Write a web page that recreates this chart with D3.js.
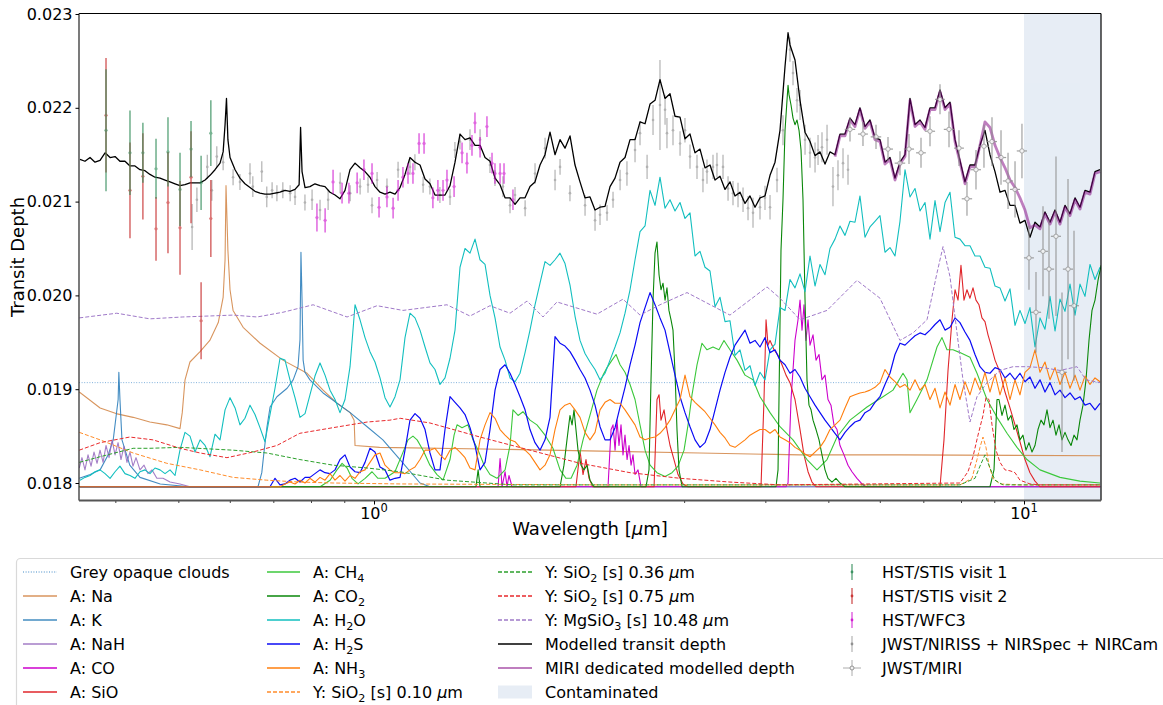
<!DOCTYPE html>
<html><head><meta charset="utf-8">
<script src="https://cdn.jsdelivr.net/npm/d3@7/dist/d3.min.js"></script>
<style>
html,body{margin:0;padding:0;background:#fff;}
svg text{font-family:"DejaVu Sans",sans-serif;white-space:pre;}
</style></head>
<body>
<svg id="chart" width="1163" height="705"></svg>
<script>
// ===================== DATA =====================
// wavelength grid (micron) shared by the densely sampled species spectra
const wavelengthGrid = [
0.3529,0.3592,0.3657,0.3722,0.3789,0.3857,0.3926,0.3996,0.4066,0.4139,0.4213,0.4288,0.4365,0.4443,0.4522,0.4603,0.4686,0.4770,0.4855,0.4942,
0.5029,0.5119,0.5211,0.5304,0.5400,0.5497,0.5594,0.5694,0.5796,0.5900,0.6005,0.6113,0.6220,0.6331,0.6445,0.6560,0.6677,0.6796,0.6918,0.7042,
0.7168,0.7296,0.7426,0.7559,0.7694,0.7832,0.7970,0.8113,0.8259,0.8407,0.8557,0.8710,0.8865,0.9024,0.9186,0.9350,0.9517,0.9687,0.9858,1.0035,
1.0215,1.0398,1.0583,1.0773,1.0965,1.1161,1.1360,1.1563,1.1770,1.1981,1.2194,1.2412,1.2634,1.2860,1.3090,1.3324,1.3562,1.3805,1.4051,1.4303,
1.4558,1.4819,1.5083,1.5353,1.5627,1.5907,1.6191,1.6481,1.6775,1.7075,1.7378,1.7689,1.8005,1.8327,1.8654,1.8988,1.9327,1.9673,2.0024,2.0382,
2.0746,2.1117,2.1494,2.1879,2.2270,2.2669,2.3073,2.3486,2.3905,2.4333,2.4768,2.5211,2.5661,2.6120,2.6586,2.7062,2.7542,2.8035,2.8536,2.9047,
2.9565,3.0094,3.0632,3.1180,3.1735,3.2303,3.2880,3.3469,3.4066,3.4676,3.5294,3.5926,3.6567,3.7222,3.7886,3.8564,3.9251,3.9954,4.0667,4.1395,
4.2134,4.2888,4.3652,4.4433,4.5226,4.6035,4.6858,4.7697,4.8547,4.9416,5.0293,5.1193,5.2110,5.3043,5.3986,5.4952,5.5933,5.6934,5.7950,5.8987,
6.0039,6.1114,6.2205,6.3318,6.4448,6.5602,6.6772,6.7967,6.9183,7.0421,7.1677,7.2960,7.4264,7.5593,7.6941,7.8318,7.9707,8.1134,8.2584,8.4062,
8.5562,8.7093,8.8650,9.0237,9.1850,9.3494,9.5163,9.6866,9.8583,10.035,10.214,10.397,10.583,10.772,10.965,11.161,11.360,11.563,11.770,11.981,
12.194,12.412,12.634,12.860,13.090];

// transit depths in ppm on the grid above
const h2oPpm = [
18030,18060,18080,18120,18140,18100,18050,18120,18180,18100,18080,18050,18120,18140,18100,18160,18140,18100,18140,18080,
18350,18540,18500,18330,18460,18400,18280,18520,18460,18780,18910,18800,18620,18690,18830,18730,18590,18440,18730,19010,
19330,19310,19100,18910,18700,18740,18940,19140,19280,19150,18990,18890,18750,18890,19240,19900,19740,19550,19400,19290,
19120,18910,18810,18920,19100,19550,19810,19760,19630,19450,19280,19210,19050,19120,19330,19630,20300,20500,20450,20600,
20380,20330,20000,19760,19450,19310,19120,19080,19170,19390,19630,19900,20130,20360,20320,20380,20450,20340,20110,19780,
19520,19380,19290,19210,19100,19170,19310,19450,19600,19810,20060,20380,20680,20740,21120,20960,21260,20930,21020,20900,
20990,20820,20880,20420,20470,20300,20260,19880,19980,19720,19730,19360,19420,19200,19250,19040,19180,19100,19420,19480,
19870,19840,20170,20080,20230,20040,20420,20100,20330,20220,20500,20600,20740,20640,20790,20780,21060,20620,20730,20790,
20850,20460,20510,20420,20790,21340,21050,21140,20900,20990,20600,21010,20680,20990,21100,20620,20600,20530,20530,20420,
20420,20300,20290,20100,20080,19940,20070,19680,19840,19700,19870,19450,19760,19640,19990,19620,19960,19830,20120,19790,
20120,19990,20330,20170,20300];

const h2sPpm = [
17960,17960,17960,17960,17960,17960,17960,17960,17960,17960,17960,17960,17960,17960,17960,17960,17960,17960,17960,17960,
17960,17960,17960,17960,17960,17960,17960,17960,17960,17960,17960,17960,17960,17960,17960,17960,17960,17960,17960,18050,
17980,17990,18030,18050,18010,18060,18060,18100,18140,18110,18100,18140,18250,18300,18170,18120,18110,18220,18370,18330,
18170,18140,18030,18050,18060,18350,18670,18740,18690,18570,18320,18140,18140,18570,18920,18860,18800,18730,18590,18400,
18140,18220,18570,18990,19210,19260,19170,19050,18920,18780,18570,18430,18350,18460,18700,19560,19490,19460,19400,19310,
19210,19120,18990,18830,18600,18460,18460,18590,18810,19020,19260,19470,19710,19870,20030,19900,19760,19630,19390,19150,
18920,18750,18600,18460,18380,18430,18570,18780,18990,19180,19340,19470,19550,19630,19490,19520,19450,19550,19390,19420,
19310,19260,19170,19210,19130,19010,18920,18830,18750,18670,18600,18530,18460,18540,18600,18650,18670,18750,18780,18860,
18920,19050,19170,19370,19490,19470,19520,19570,19600,19580,19630,19690,19740,19630,19660,19760,19710,19610,19520,19370,
19240,19180,19170,19230,19210,19120,19170,19100,19170,19080,19130,19010,19100,18970,19070,18940,18990,18910,18960,18890,
18920,18830,18850,18780,18850];

const nh3Ppm = [
17960,17960,17960,17960,17960,17960,17960,17960,17960,17960,17960,17960,17960,17960,17960,17960,17960,17960,17960,17960,
17960,17960,17960,17960,17960,17960,17960,17960,17960,17960,17960,17960,17960,17960,17960,17960,17960,17960,17960,17960,
17960,17990,18010,17990,18030,18000,18050,18010,18060,18030,18100,18030,18080,18020,18080,18050,18120,18140,18220,18300,
18320,18190,18140,18110,18110,18100,18140,18170,18250,18350,18350,18370,18300,18250,18350,18380,18330,18270,18160,18140,
18460,18620,18750,18690,18570,18510,18460,18440,18380,18350,18300,18220,18140,18190,18300,18570,18780,18830,18850,18780,
18700,18540,18460,18540,18780,18860,18890,18850,18850,18780,18700,18620,18490,18460,18480,18490,18530,18590,18670,18780,
18890,19150,18920,18860,18810,18760,18690,18620,18540,18480,18400,18380,18420,18460,18510,18540,18570,18570,18530,18570,
18490,18460,18430,18380,18350,18310,18280,18330,18380,18460,18570,18620,18670,18800,18920,18940,18960,18970,18990,19020,
19070,19210,19130,19080,19020,19050,18990,19100,18990,19050,18890,19010,18800,18970,18830,19050,18890,19080,18940,19120,
18990,19180,18970,19160,18940,19120,18890,19100,18940,19180,19230,19420,19180,19290,19100,19230,19050,19180,19010,19150,
18990,19140,19050,19120,19080];

// [wavelength (micron), depth (ppm)]
const modelDepth = [
[0.3529,21450],[0.3592,21430],[0.3657,21470],[0.3722,21420],[0.3789,21440],[0.3857,21520],[0.3926,21470],[0.3996,21480],[0.4066,21430],[0.4139,21430],[0.4213,21380],[0.4288,21380],[0.4365,21340],[0.4443,21330],[0.4522,21290],[0.4603,21260],[0.4686,21250],[0.4770,21230],[0.4855,21210],[0.4942,21190],
[0.5029,21170],[0.5119,21180],[0.5211,21200],[0.5304,21200],[0.5400,21200],[0.5497,21230],[0.5594,21280],[0.5694,21340],[0.5796,21410],[0.586,21530],[0.590,21820],[0.593,22100],[0.596,21660],[0.6005,21470],[0.6113,21340],[0.6220,21250],[0.6331,21190],[0.6445,21150],[0.6560,21110],[0.6677,21090],[0.6796,21080],[0.6918,21080],[0.7042,21090],
[0.7168,21100],[0.7296,21120],[0.7426,21110],[0.7559,21130],[0.767,21180],[0.771,21790],[0.775,21320],[0.7832,21150],[0.7970,21160],[0.8113,21190],[0.8259,21170],[0.8407,21160],[0.8557,21100],[0.8710,21070],[0.8865,21030],[0.9024,21120],[0.9186,21340],[0.9350,21410],[0.9517,21360],[0.9687,21320],[0.9858,21260],[1.0035,21160],
[1.0215,21100],[1.0398,21080],[1.0583,21100],[1.0773,21080],[1.0965,21150],[1.1161,21290],[1.1360,21470],[1.1563,21420],[1.1770,21390],[1.1981,21240],[1.2194,21190],[1.2412,21070],[1.2634,21070],[1.2860,21070],[1.3090,21170],[1.3324,21420],[1.3562,21720],[1.3805,21660],[1.4051,21680],[1.4303,21600],
[1.4558,21600],[1.4819,21470],[1.5083,21430],[1.5353,21250],[1.5627,21180],[1.5907,21040],[1.6191,21040],[1.6481,20970],[1.6775,21040],[1.7075,21040],[1.7378,21160],[1.7689,21210],[1.8005,21390],[1.8327,21500],[1.8654,21740],[1.8988,21500],[1.9327,21660],[1.9673,21570],[2.0024,21700],[2.0382,21390],
[2.0746,21210],[2.1117,21040],[2.1494,21050],[2.1879,20910],[2.2270,20940],[2.2669,20950],[2.3073,21160],[2.3486,21250],[2.3905,21420],[2.4333,21470],[2.4768,21660],[2.5211,21660],[2.5661,21850],[2.6120,21830],[2.6586,22040],[2.7062,22080],[2.7542,22300],[2.8035,22100],[2.8536,22150],[2.9047,21910],
[2.9565,21900],[3.0094,21670],[3.0632,21720],[3.1180,21520],[3.1735,21560],[3.2303,21360],[3.2880,21390],[3.3469,21230],[3.4066,21270],[3.4676,21130],[3.5294,21210],[3.5926,21060],[3.6567,21100],[3.7222,20980],[3.7886,21060],[3.8564,20940],[3.9251,21040],[3.9954,21060],[4.0667,21280],[4.1395,21420],
[4.2134,21760],[4.2888,22440],[4.335,22800],[4.3652,22670],[4.4433,22510],[4.5226,22080],[4.6035,21740],[4.6858,21640],[4.7697,21490],[4.8547,21530],[4.9416,21400],[5.0293,21530],[5.1193,21500],[5.2110,21720],[5.3043,21720],[5.3986,21890],[5.4952,21820],[5.5933,22000],[5.6934,21800],[5.7950,21870],[5.8987,21680],
[6.0039,21660],[6.1114,21420],[6.2205,21470],[6.3318,21250],[6.4448,21420],[6.5602,21500],[6.6772,22100],[6.7967,21820],[6.9183,21870],[7.0421,21790],[7.1677,22000],[7.2960,22000],[7.4264,22190],[7.5593,22000],[7.6941,22060],[7.8318,21660],[7.9707,21440],[8.1134,21210],[8.2584,21390],[8.4062,21390],
[8.5562,21600],[8.7093,21760],[8.8650,21500],[9.0237,21320],[9.1850,21100],[9.3494,21120],[9.5163,20960],[9.6866,20960],[9.8583,20770],[10.035,20800],[10.214,20620],[10.397,20780],[10.583,20730],[10.772,20890],[10.965,20780],[11.161,20910],[11.360,20780],[11.563,20960],[11.770,20870],[11.981,21040],
[12.194,20940],[12.412,21120],[12.634,21100],[12.860,21320],[13.090,21340]];

const miriModelDepth = [
[5.1193,21480],[5.2110,21700],[5.3043,21700],[5.3986,21870],[5.4952,21800],[5.5933,21980],[5.6934,21780],[5.7950,21850],[5.8987,21660],
[6.0039,21640],[6.1114,21400],[6.2205,21450],[6.3318,21230],[6.4448,21400],[6.5602,21480],[6.6772,22080],[6.7967,21800],[6.9183,21850],[7.0421,21770],[7.1677,21980],[7.2960,21980],[7.4264,22170],[7.5593,21980],[7.6941,22040],[7.8318,21640],[7.9707,21420],[8.1134,21190],[8.2584,21370],[8.4062,21370],
[8.5562,21600],[8.7093,21850],[8.8650,21790],[9.0237,21600],[9.1850,21470],[9.3494,21360],[9.5163,21230],[9.6866,21150],[9.8583,21040],[10.035,20910],[10.214,20720],[10.397,20750],[10.583,20710],[10.772,20870],[10.965,20760],[11.161,20890],[11.360,20760],[11.563,20940],[11.770,20850],[11.981,21020],
[12.194,20920],[12.412,21100],[12.634,21080],[12.860,21300],[13.090,21320]];

const naDepth = [[0.352,18970],[0.379,18800],[0.401,18740],[0.426,18700],[0.452,18650],[0.480,18620],[0.503,18580],[0.505,18670],[0.507,18750],[0.512,19100],[0.521,19290],[0.540,19400],[0.559,19520],[0.576,19710],[0.586,19980],[0.590,20380],[0.592,21170],[0.596,20480],[0.6005,20060],[0.607,19840],[0.629,19660],[0.668,19490],[0.724,19310],[0.789,19170],[0.835,18990],[0.877,18850],[0.919,18750],[0.932,18670],[0.935,18400],[1.02,18380],[1.56,18360],[2.23,18340],[3.17,18320],[4.52,18300],[6.44,18300],[13.1,18290]];

const kDepth = [[0.352,18050],[0.366,18090],[0.379,18140],[0.390,18300],[0.397,18460],[0.404,18890],[0.405,19180],[0.4066,18890],[0.4095,18460],[0.421,18190],[0.4365,18060],[0.469,17990],[0.52,17960],[0.663,17960],[0.672,18110],[0.677,18320],[0.6845,18600],[0.692,18810],[0.709,18920],[0.735,19010],[0.751,19100],[0.764,19240],[0.7694,19530],[0.772,20460],[0.775,19950],[0.778,19310],[0.783,19180],[0.797,19100],[0.835,18960],[0.919,18750],[0.976,18600],[1.032,18460],[1.0965,18250],[1.177,18000],[1.219,17960],[13.1,17960]];

const nahDepth = [[0.352,18160],[0.3554,18270],[0.3592,18140],[0.3631,18300],[0.3670,18180],[0.3709,18330],[0.3749,18210],[0.3789,18350],[0.3830,18220],[0.3870,18400],[0.3912,18270],[0.3954,18460],[0.3996,18300],[0.4039,18430],[0.4081,18250],[0.4124,18390],[0.4168,18220],[0.4213,18330],[0.4258,18180],[0.4304,18270],[0.4365,18140],[0.4428,18190],[0.4490,18100],[0.4554,18140],[0.4634,18050],[0.4736,18050],[0.4855,18010],[0.5029,17990],[0.5211,17960],[13.1,17960]];

const coDepth = [[0.352,17960],[1.552,17960],[1.563,18260],[1.574,17960],[1.591,18120],[1.602,17960],[1.613,18080],[1.631,17960],[2.291,17960],[2.316,18570],[2.332,18620],[2.349,18350],[2.365,18670],[2.382,18400],[2.399,18620],[2.416,18300],[2.433,18510],[2.451,18250],[2.468,18400],[2.486,18190],[2.503,18300],[2.521,18090],[2.548,18140],[2.575,17960],[4.304,17960],[4.335,18000],[4.381,18890],[4.443,19520],[4.491,19740],[4.523,19950],[4.555,19630],[4.587,19900],[4.620,19520],[4.653,19740],[4.686,19470],[4.736,19580],[4.787,19310],[4.838,19370],[4.889,19100],[4.942,19150],[4.994,18890],[5.047,18830],[5.101,18620],[5.156,18570],[5.211,18400],[5.286,18300],[5.361,18190],[5.437,18120],[5.534,18050],[5.633,17990],[5.716,17960],[13.1,17960]];

const sioDepth = [[0.352,17960],[2.045,17960],[2.075,18340],[2.097,18090],[2.119,18250],[2.142,18050],[2.171,17960],[2.697,17960],[2.725,18890],[2.745,18940],[2.764,18670],[2.794,18780],[2.823,18570],[2.854,18400],[2.894,18250],[2.936,18090],[2.988,17990],[3.041,17960],[3.939,17960],[3.981,18890],[4.010,19740],[4.038,19470],[4.067,19520],[4.125,19420],[4.184,19360],[4.243,19260],[4.304,19150],[4.365,19070],[4.443,18890],[4.523,18570],[4.587,18300],[4.653,18120],[4.719,18010],[4.787,17960],[7.426,17960],[7.532,18460],[7.640,19200],[7.749,19740],[7.832,20060],[7.916,19950],[7.999,20320],[8.085,19950],[8.171,20060],[8.258,19970],[8.347,20080],[8.436,19950],[8.526,19900],[8.617,19760],[8.709,19720],[8.803,19580],[8.897,19470],[9.024,19310],[9.185,19180],[9.349,18970],[9.516,18800],[9.687,18620],[9.858,18440],[10.035,18250],[10.214,18110],[10.397,18020],[10.583,17960],[13.1,17960]];

const ch4Depth = [[0.352,17960],[0.826,17960],[0.856,18030],[0.877,18140],[0.893,18210],[0.909,18160],[0.925,18050],[0.945,17990],[0.969,18050],[0.993,18120],[1.014,18050],[1.040,18050],[1.077,18120],[1.104,18300],[1.128,18460],[1.148,18500],[1.165,18460],[1.190,18350],[1.219,18190],[1.250,18090],[1.277,18030],[1.309,18250],[1.328,18510],[1.342,18620],[1.366,18590],[1.395,18620],[1.420,18460],[1.446,18350],[1.477,18190],[1.508,18090],[1.546,18050],[1.591,18140],[1.619,18400],[1.636,18780],[1.666,18720],[1.695,18760],[1.738,18670],[1.781,18620],[1.833,18510],[1.885,18370],[1.933,18140],[1.974,18050],[2.010,18050],[2.053,18190],[2.097,18460],[2.149,18720],[2.203,18990],[2.251,19150],[2.283,19230],[2.324,19310],[2.357,19370],[2.391,19260],[2.433,19180],[2.477,19050],[2.521,18890],[2.566,18620],[2.612,18350],[2.659,18190],[2.725,18110],[2.804,18070],[2.874,18110],[2.936,18180],[2.999,18350],[3.042,18620],[3.085,18940],[3.140,19260],[3.196,19490],[3.253,19420],[3.323,19450],[3.394,19420],[3.455,19520],[3.529,19420],[3.618,19310],[3.722,19150],[3.829,19100],[3.925,18920],[4.067,18750],[4.213,18600],[4.412,18460],[4.636,18250],[4.803,18140],[4.977,18250],[5.156,18490],[5.399,18670],[5.734,18810],[6.068,18920],[6.287,18990],[6.514,19170],[6.607,19100],[6.677,18750],[6.845,18890],[7.092,19100],[7.348,19450],[7.479,19550],[7.613,19420],[7.776,19420],[7.971,19390],[8.258,19340],[8.466,19170],[8.771,18890],[9.088,18700],[9.416,18530],[9.755,18380],[10.106,18250],[10.583,18140],[11.36,18060],[12.19,18020],[13.09,18000]];

const co2Depth = [[0.352,17960],[1.435,17960],[1.446,18140],[1.456,17960],[1.933,17960],[1.960,18190],[1.981,18460],[2.002,18720],[2.017,18620],[2.031,18780],[2.045,18570],[2.060,18350],[2.082,18190],[2.104,18140],[2.127,18190],[2.149,18030],[2.180,17960],[2.621,17960],[2.649,18140],[2.668,19100],[2.687,19950],[2.706,20450],[2.725,20570],[2.745,20220],[2.764,20060],[2.784,20130],[2.804,19950],[2.823,20080],[2.843,19840],[2.864,19740],[2.884,19630],[2.905,19170],[2.925,18570],[2.946,18140],[2.978,17960],[4.154,17960],[4.184,18140],[4.198,18890],[4.228,20480],[4.258,21020],[4.289,21760],[4.319,22080],[4.335,22240],[4.350,22140],[4.381,22030],[4.412,21890],[4.443,21820],[4.475,21870],[4.507,21760],[4.539,21550],[4.571,21020],[4.604,19950],[4.636,19100],[4.669,18830],[4.703,18780],[4.736,18670],[4.787,18570],[4.838,18460],[4.889,18300],[4.942,18140],[4.994,18050],[5.065,18010],[5.137,18050],[5.211,18000],[5.304,17960],[8.865,17960],[8.992,18140],[9.088,18890],[9.152,18890],[9.250,18720],[9.349,18830],[9.450,18670],[9.550,18720],[9.652,18570],[9.755,18620],[9.858,18460],[9.964,18510],[10.070,18350],[10.178,18430],[10.287,18330],[10.397,18400],[10.508,18570],[10.621,18670],[10.734,18620],[10.849,18780],[10.965,18590],[11.082,18670],[11.200,18510],[11.320,18620],[11.441,18460],[11.563,18540],[11.687,18460],[11.812,18400],[11.938,18510],[12.065,18460],[12.194,18670],[12.324,18830],[12.456,19100],[12.589,19520],[12.724,19840],[12.860,19950],[12.998,20160],[13.14,20320]];

const sio2Small = [[0.352,18540],[0.379,18460],[0.426,18320],[0.480,18210],[0.540,18140],[0.607,18060],[0.684,18030],[0.769,18010],[0.865,18000],[1.097,17990],[2.227,17980],[7.971,17980],[8.317,18050],[8.466,18250],[8.556,18380],[8.648,18490],[8.740,18380],[8.834,18190],[8.960,18050],[9.185,17990],[9.858,17980],[13.09,17980]];
const sio2Mid = [[0.352,18220],[0.379,18280],[0.426,18370],[0.452,18370],[0.503,18380],[0.607,18350],[0.684,18320],[0.769,18250],[0.865,18190],[0.976,18160],[1.097,18120],[1.295,18030],[1.636,17980],[7.971,17980],[8.406,18050],[8.556,18180],[8.709,18300],[8.865,18160],[9.024,18030],[9.283,17980],[13.09,17980]];
const sio2Large = [[0.352,18350],[0.379,18430],[0.421,18490],[0.457,18460],[0.503,18370],[0.540,18320],[0.594,18270],[0.651,18330],[0.709,18400],[0.769,18530],[0.865,18590],[0.976,18650],[1.058,18670],[1.097,18690],[1.219,18640],[1.456,18490],[1.738,18350],[2.075,18210],[2.477,18110],[2.957,18050],[3.529,18010],[4.213,17980],[7.971,18000],[8.200,18120],[8.347,18280],[8.496,18510],[8.648,18720],[8.740,18910],[8.834,18890],[8.928,18620],[9.056,18350],[9.185,18220],[9.349,18140],[9.516,18130],[9.687,18110],[9.858,18030],[10.214,17990],[10.583,17980],[13.09,17980]];
const mgsio3Depth = [[0.352,19760],[0.402,19810],[0.452,19750],[0.508,19770],[0.607,19790],[0.661,19770],[0.724,19820],[0.806,19900],[0.909,19770],[1.011,19890],[1.108,19840],[1.295,19900],[1.405,19780],[1.508,19890],[1.619,19810],[1.720,19940],[1.820,19770],[1.912,19930],[2.203,19800],[2.416,19960],[2.566,19790],[2.754,19900],[3.031,20030],[3.529,19790],[4.024,20090],[4.213,19970],[4.523,19740],[4.977,19840],[5.534,20160],[6.004,19970],[6.445,19520],[6.749,19600],[7.092,19740],[7.348,20240],[7.506,20520],[7.694,20200],[7.887,19600],[8.056,19100],[8.258,18650],[8.466,18920],[8.771,19070],[9.185,19200],[9.618,19240],[10.106,19240],[10.696,19230],[11.36,19200],[12.065,19240],[12.456,19100],[13.09,19070]];

const greyCloudPpm = 19070;
const contaminatedRange = [10.0, 13.14];

// observations: [wavelength, depth ppm, 1-sigma ppm]
const stisVisit1 = [[0.387,21760,650],[0.4213,21520,450],[0.441,21520,320],[0.462,21350,320],[0.482,21530,370],[0.503,21130,390],[0.523,21560,300],[0.542,21200,290],[0.561,21730,350]];
const stisVisit2 = [[0.387,21920,610],[0.4213,21120,510],[0.441,21270,460],[0.462,20710,340],[0.482,20990,540],[0.503,20720,500],[0.523,21260,490],[0.542,19730,410],[0.561,20820,410]];
const wfc3 = [[0.817,20830,150],[0.841,20800,130],[0.865,21210,130],[0.893,21090,110],[0.915,21090,110],[0.942,21200,110],[0.965,21340,110],[0.993,21300,110],[1.018,20940,110],[1.047,21050,110],[1.070,20930,110],[1.089,21120,110],[1.108,21260,110],[1.128,21300,110],[1.148,21300,110],[1.173,21620,110],[1.194,21620,110],[1.232,21040,110],[1.254,21120,110],[1.277,21120,110],[1.295,21230,110],[1.328,21160,110],[1.366,21520,110],[1.390,21410,110],[1.415,21600,110],[1.430,21840,110],[1.456,21580,110],[1.492,21800,110],[1.519,21410,110],[1.535,21300,110],[1.563,21300,110],[1.585,21300,110],[1.636,21020,110]];
const jwstNir = [[0.525,20730,245],[0.534,21020,130],[0.554,21370,130],[0.563,21120,110],[0.573,21480,110],[0.586,21420,85],[0.607,21260,85],[0.622,21210,85],[0.6445,21300,110],[0.651,21160,110],[0.672,21320,110],[0.684,21050,110],[0.697,21120,85],[0.709,21090,85],[0.724,21120,85],[0.743,21090,85],[0.756,21050,85],[0.783,20990,85],[0.803,21020,110],[0.826,20910,110],[0.850,21020,110],[0.887,21200,110],[0.919,21090,85],[0.952,21160,85],[0.979,21180,85],[0.993,20960,85],[1.011,21230,85],[1.047,21160,85],[1.089,21340,85],[1.136,21370,85],[1.156,21420,85],[1.190,21180,85],[1.219,21160,85],[1.263,21070,85],[1.309,21050,85],[1.332,21550,85],[1.356,21640,85],[1.405,21660,110],[1.456,21660,110],[1.508,21390,85],[1.535,21250,85],[1.579,21160,110],[1.619,20960,85],[1.648,21070,85],[1.708,20930,85],[1.769,21300,110],[1.833,21570,110],[1.899,21230,110],[1.933,21370,85],[2.002,21090,85],[2.112,20960,110],[2.188,20800,110],[2.227,20860,110],[2.283,20880,85],[2.332,21020,85],[2.391,21230,110],[2.450,21300,130],[2.521,21550,130],[2.566,21730,130],[2.631,21370,130],[2.687,21870,160],[2.754,22030,480],[2.804,21980,160],[2.823,21730,160],[2.884,21760,160],[2.957,21620,130],[3.009,21760,130],[3.063,21480,130],[3.140,21370,130],[3.207,21230,130],[3.253,21320,130],[3.323,21370,130],[3.370,21390,130],[3.443,21370,130],[3.505,21140,130],[3.567,21090,130],[3.631,21070,130],[3.696,21020,130],[3.762,20930,130],[3.829,20880,160],[3.925,20940,130],[3.995,21040,130],[4.067,20940,130],[4.169,21230,130],[4.258,21760,160],[4.365,22620,130],[4.412,22370,130],[4.475,22080,130],[4.523,22030,160],[4.604,21660,160],[4.686,21520,160],[4.770,21470,160],[4.821,21550,160],[4.889,21580,160],[4.977,21660,160],[5.083,21160,210],[5.174,21280,160],[5.267,21410,160],[5.361,21340,160]];
// [wavelength, depth ppm, 1-sigma ppm, half bin width micron]
const jwstMiri = [[5.399,21770,128,0.10],[5.653,21720,128,0.10],[5.920,21690,128,0.11],[6.177,21560,128,0.11],[6.445,21410,128,0.12],[6.654,21560,160,0.12],[6.943,21520,160,0.12],[7.168,21750,160,0.13],[7.426,22090,160,0.13],[7.667,21770,190,0.14],[7.943,21570,190,0.14],[8.171,21030,180,0.15],[8.436,21340,210,0.15],[8.678,21590,230,0.16],[8.928,21640,260,0.16],[9.218,21470,290,0.17],[9.450,21220,300,0.17],[9.687,21130,300,0.17],[9.928,21540,290,0.18],[10.178,20400,340,0.18],[10.434,19820,430,0.19],[10.696,20470,480,0.19],[10.926,20280,530,0.2],[11.200,20630,850,0.2],[11.441,19180,850,0.2],[11.687,20280,960,0.21],[11.938,19890,800,0.21]];

const yTickValues = [0.018,0.019,0.020,0.021,0.022,0.023];
const xMajorTicks = [1,10];
const xMinorTicks = [0.4,0.5,0.6,0.7,0.8,0.9,2,3,4,5,6,7,8,9];
const xTickExponents = ["0","1"];

const legendLabels = [
 ["Grey opaque clouds","A: Na","A: K","A: NaH","A: CO","A: SiO"],
 ["A: CH_4","A: CO_2","A: H_2O","A: H_2S","A: NH_3","Y: SiO_2 [s] 0.10 {mu}m"],
 ["Y: SiO_2 [s] 0.36 {mu}m","Y: SiO_2 [s] 0.75 {mu}m","Y: MgSiO_3 [s] 10.48 {mu}m","Modelled transit depth","MIRI dedicated modelled depth","Contaminated"],
 ["HST/STIS visit 1","HST/STIS visit 2","HST/WFC3","JWST/NIRISS + NIRSpec + NIRCam","JWST/MIRI"]
];

// ===================== STYLES =====================
const S = {
 clouds:{c:"#74aad8",w:1,dash:"1,1.6",o:0.9},
 na:{c:"#d48a4c",w:1.1,o:0.9},
 k:{c:"#2f80bb",w:1.1,o:0.9},
 nah:{c:"#9467bd",w:1.1,o:0.85},
 co:{c:"#cc00cc",w:1.1,o:1},
 sio:{c:"#e0262b",w:1.1,o:1},
 ch4:{c:"#3cc83c",w:1.1,o:1},
 co2:{c:"#0a870a",w:1.1,o:1},
 h2o:{c:"#12bfbf",w:1.1,o:1},
 h2s:{c:"#0b0bf5",w:1.2,o:1},
 nh3:{c:"#ff7f0e",w:1.1,o:1},
 sio2a:{c:"#ff8c2a",w:1,dash:"4,2",o:1},
 sio2b:{c:"#2ca02c",w:1,dash:"4,2",o:1},
 sio2c:{c:"#e8292c",w:1,dash:"4,2",o:1},
 mgsio3:{c:"#9f79c8",w:1,dash:"4,2",o:1},
 model:{c:"#000000",w:1.3,o:1},
 miri:{c:"#800080",w:2.8,o:0.5},
 stis1:{c:"#2e8b57",w:1.6,o:0.65,r:1.6},
 stis2:{c:"#c62828",w:1.6,o:0.65,r:1.6},
 wfc3:{c:"#cc00cc",w:1.5,o:0.6,r:1.6},
 jwst:{c:"#808080",w:1.2,o:0.6,r:1.3},
 jmiri:{c:"#8a8a8a",w:1.2,o:0.8,r:2.2}
};

// ===================== CHART =====================
const W=1163,H=705;
const plot={left:79,right:1101,top:13.5,bottom:500.5};
const x=d3.scaleLog().domain([1,10]).range([374,1024]);
const y=d3.scaleLinear().domain([0.018,0.023]).range([483,14]);
const svg=d3.select("#chart");
svg.append("rect").attr("width",W).attr("height",H).attr("fill","#fff");
svg.append("defs").append("clipPath").attr("id","clip").append("rect")
  .attr("x",plot.left).attr("y",plot.top).attr("width",plot.right-plot.left).attr("height",plot.bottom-plot.top);
const g=svg.append("g").attr("clip-path","url(#clip)");

g.append("rect").attr("x",x(contaminatedRange[0])).attr("y",plot.top)
  .attr("width",x(contaminatedRange[1])-x(contaminatedRange[0])).attr("height",plot.bottom-plot.top).attr("fill","#e7edf5");

const line=d3.line().x(d=>x(d[0])).y(d=>y(d[1]*1e-6));
const onGrid=vals=>vals.map((v,i)=>[wavelengthGrid[i],v]);
function drawLine(data,st){
  g.append("path").attr("d",line(data)).attr("fill","none").attr("stroke",st.c)
   .attr("stroke-width",st.w).attr("stroke-dasharray",st.dash||null).attr("opacity",st.o)
   .attr("stroke-linejoin","round");
}
const xLo=x.invert(plot.left), xHi=x.invert(plot.right);
drawLine([[xLo,greyCloudPpm],[xHi,greyCloudPpm]],S.clouds);
drawLine(naDepth,S.na);
drawLine(kDepth,S.k);
drawLine(nahDepth,S.nah);
drawLine(coDepth,S.co);
drawLine(sioDepth,S.sio);
drawLine(ch4Depth,S.ch4);
drawLine(co2Depth,S.co2);
drawLine(onGrid(h2oPpm),S.h2o);
drawLine(onGrid(h2sPpm),S.h2s);
drawLine(onGrid(nh3Ppm),S.nh3);
drawLine(sio2Small,S.sio2a);
drawLine(sio2Mid,S.sio2b);
drawLine(sio2Large,S.sio2c);
drawLine(mgsio3Depth,S.mgsio3);

function drawErr(data,st){
  const gg=g.append("g").attr("opacity",st.o);
  data.forEach(d=>{
    gg.append("line").attr("x1",x(d[0])).attr("x2",x(d[0]))
      .attr("y1",y((d[1]-d[2])*1e-6)).attr("y2",y((d[1]+d[2])*1e-6))
      .attr("stroke",st.c).attr("stroke-width",st.w);
    gg.append("circle").attr("cx",x(d[0])).attr("cy",y(d[1]*1e-6)).attr("r",st.r).attr("fill",st.c);
  });
}
drawErr(jwstNir,S.jwst);
drawLine(modelDepth,S.model);
drawLine(miriModelDepth,S.miri);
// MIRI points
(function(){
  const st=S.jmiri, gg=g.append("g").attr("opacity",st.o);
  jwstMiri.forEach(d=>{
    gg.append("line").attr("x1",x(d[0])).attr("x2",x(d[0]))
      .attr("y1",y((d[1]-d[2])*1e-6)).attr("y2",y((d[1]+d[2])*1e-6)).attr("stroke",st.c).attr("stroke-width",st.w);
    gg.append("line").attr("x1",x(d[0]-d[3])).attr("x2",x(d[0]+d[3]))
      .attr("y1",y(d[1]*1e-6)).attr("y2",y(d[1]*1e-6)).attr("stroke",st.c).attr("stroke-width",st.w);
    gg.append("circle").attr("cx",x(d[0])).attr("cy",y(d[1]*1e-6)).attr("r",st.r)
      .attr("fill","#f2f2f2").attr("stroke",st.c).attr("stroke-width",0.9);
  });
})();
drawErr(wfc3,S.wfc3);
drawErr(stisVisit2,S.stis2);
drawErr(stisVisit1,S.stis1);

// frame
svg.append("line").attr("x1",plot.left).attr("x2",plot.right).attr("y1",plot.top).attr("y2",plot.top).attr("stroke","#000").attr("stroke-width",1.2);
svg.append("line").attr("x1",plot.right).attr("x2",plot.right).attr("y1",plot.top).attr("y2",plot.bottom).attr("stroke","#000").attr("stroke-width",1.2);
svg.append("line").attr("x1",plot.left).attr("x2",plot.left).attr("y1",plot.top).attr("y2",plot.bottom).attr("stroke","#333").attr("stroke-width",1.3);
svg.append("line").attr("x1",plot.left).attr("x2",plot.right).attr("y1",plot.bottom).attr("y2",plot.bottom).attr("stroke","#555").attr("stroke-width",2);

// axes
const yAxis=svg.append("g").attr("transform",`translate(${plot.left},0)`)
  .call(d3.axisLeft(y).tickValues(yTickValues).tickFormat(d3.format(".3f")).tickSize(3.5).tickPadding(3));
yAxis.select(".domain").remove();
yAxis.selectAll("text").attr("font-size",16).attr("font-family","DejaVu Sans").attr("fill","#000");
yAxis.selectAll("line").attr("stroke","#000");

const xAxisMaj=svg.append("g").attr("transform",`translate(0,${plot.bottom+0.5})`)
  .call(d3.axisBottom(x).tickValues(xMajorTicks).tickFormat("").tickSize(3.5));
xAxisMaj.select(".domain").remove();
const xAxisMin=svg.append("g").attr("transform",`translate(0,${plot.bottom+0.5})`)
  .call(d3.axisBottom(x).tickValues(xMinorTicks).tickFormat("").tickSize(2));
xAxisMin.select(".domain").remove();
xAxisMin.selectAll("line").attr("stroke","#444");
xMajorTicks.forEach((t,i)=>{
  const tx=svg.append("text").attr("x",x(t)).attr("y",519).attr("text-anchor","middle").attr("font-size",16);
  tx.append("tspan").text("10");
  tx.append("tspan").attr("dy",-7).attr("font-size",11.5).text(xTickExponents[i]);
});

svg.append("text").attr("transform","translate(24,257) rotate(-90)").attr("text-anchor","middle")
  .attr("font-size",18).text("Transit Depth");
const xl=svg.append("text").attr("x",590).attr("y",535).attr("text-anchor","middle").attr("font-size",18);
xl.append("tspan").text("Wavelength [");
xl.append("tspan").attr("font-style","italic").text("μ");
xl.append("tspan").text("m]");

// ===================== LEGEND =====================
const lg=svg.append("g");
lg.append("rect").attr("x",16.5).attr("y",558.5).attr("width",1170).attr("height",170).attr("rx",4)
  .attr("fill","#fff").attr("stroke","#d9d9d9").attr("stroke-width",1.2);
const cols=[{sx:23,ex:57,tx:70},{sx:267,ex:300,tx:313},{sx:498,ex:532,tx:545},{cx:852,tx:882}];
const handles=[
 [S.clouds,S.na,S.k,S.nah,S.co,S.sio],
 [S.ch4,S.co2,S.h2o,S.h2s,S.nh3,S.sio2a],
 [S.sio2b,S.sio2c,S.mgsio3,S.model,S.miri,"patch"],
 [S.stis1,S.stis2,S.wfc3,S.jwst,"miriPt"]
];
function rich(t,str){
  const parts=str.split(/(_\d+|\{mu\})/).filter(s=>s.length);
  let shifted=false;
  parts.forEach(p=>{
    let ts;
    if(p[0]==="_"){ ts=t.append("tspan").attr("dy",4).attr("font-size","70%").text(p.slice(1)); shifted=true; return; }
    if(p==="{mu}") ts=t.append("tspan").attr("font-style","italic").text("μ");
    else ts=t.append("tspan").text(p);
    if(shifted){ ts.attr("dy",-4); shifted=false; }
  });
}
legendLabels.forEach((col,ci)=>{
  col.forEach((lab,ri)=>{
    const cy=572+24*ri, c=cols[ci], h=handles[ci][ri];
    if(ci<3){
      if(h==="patch"){
        lg.append("rect").attr("x",c.sx).attr("y",cy-6.5).attr("width",c.ex-c.sx).attr("height",13).attr("fill","#e7edf5");
      } else {
        lg.append("line").attr("x1",c.sx).attr("x2",c.ex).attr("y1",cy).attr("y2",cy)
          .attr("stroke",h.c).attr("stroke-width",Math.max(1.5,Math.min(h.w,2))).attr("opacity",h.o)
          .attr("stroke-dasharray",h.dash||null);
      }
    } else {
      if(h==="miriPt"){
        const st=S.jmiri;
        lg.append("line").attr("x1",c.cx).attr("x2",c.cx).attr("y1",cy-8).attr("y2",cy+8).attr("stroke",st.c).attr("opacity",0.7);
        lg.append("line").attr("x1",c.cx-9).attr("x2",c.cx+9).attr("y1",cy).attr("y2",cy).attr("stroke",st.c).attr("opacity",0.7);
        lg.append("circle").attr("cx",c.cx).attr("cy",cy).attr("r",2).attr("fill","#f2f2f2").attr("stroke",st.c).attr("stroke-width",0.9);
      } else {
        lg.append("line").attr("x1",c.cx).attr("x2",c.cx).attr("y1",cy-8).attr("y2",cy+8)
          .attr("stroke",h.c).attr("stroke-width",h.w).attr("opacity",h.o);
        lg.append("circle").attr("cx",c.cx).attr("cy",cy).attr("r",1.4).attr("fill",h.c).attr("opacity",h.o+0.2);
      }
    }
    const t=lg.append("text").attr("x",c.tx).attr("y",cy+6).attr("font-size",16).attr("fill","#000");
    rich(t,lab);
  });
});
</script>
</body></html>
